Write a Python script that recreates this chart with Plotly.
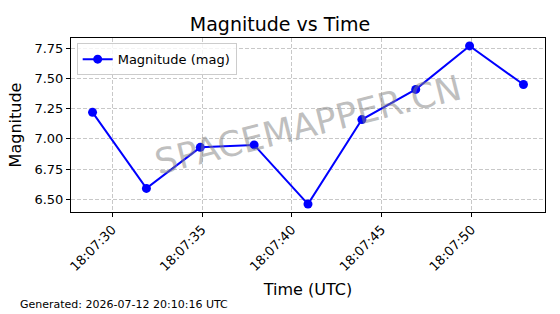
import plotly.graph_objects as go

times = ["2026-07-12 18:07:28.9", "2026-07-12 18:07:31.9", "2026-07-12 18:07:34.9",
         "2026-07-12 18:07:37.9", "2026-07-12 18:07:40.9", "2026-07-12 18:07:43.9",
         "2026-07-12 18:07:46.9", "2026-07-12 18:07:49.9", "2026-07-12 18:07:52.9"]
magnitudes = [7.22, 6.59, 6.93, 6.95, 6.46, 7.16, 7.41, 7.77, 7.45]
y_ticks = [6.50, 6.75, 7.00, 7.25, 7.50, 7.75]
y_tick_labels = ["6.50", "6.75", "7.00", "7.25", "7.50", "7.75"]
x_ticks = ["2026-07-12 18:07:30", "2026-07-12 18:07:35", "2026-07-12 18:07:40",
           "2026-07-12 18:07:45", "2026-07-12 18:07:50"]
x_tick_labels = ["18:07:30", "18:07:35", "18:07:40", "18:07:45", "18:07:50"]

font = "DejaVu Sans"

fig = go.Figure()
fig.add_trace(go.Scatter(
    x=times, y=magnitudes, mode="lines+markers", name="Magnitude (mag)",
    line=dict(color="#0000ff", width=2),
    marker=dict(color="#0000ff", size=9),
))

fig.update_layout(
    width=560, height=314,
    margin=dict(l=71, r=15, t=38, b=102),
    paper_bgcolor="white", plot_bgcolor="white",
    font=dict(family=font, size=13, color="black"),
    title=dict(text="Magnitude vs Time", x=0.5, xanchor="center", y=1 - 24/314,
               yanchor="middle", font=dict(family=font, size=19, color="black")),
    showlegend=True,
    legend=dict(x=0.012, y=0.97, xanchor="left", yanchor="top",
                bgcolor="rgba(255,255,255,0.8)", bordercolor="#cccccc", borderwidth=1,
                font=dict(family=font, size=13), itemwidth=30),
)

fig.update_xaxes(
    type="date",
    range=["2026-07-12 18:07:27.7", "2026-07-12 18:07:54.1"],
    tickvals=x_ticks, ticktext=x_tick_labels, tickangle=-45,
    ticks="outside", ticklen=4, tickcolor="black",
    showline=True, linecolor="black", linewidth=1, mirror=True,
    showgrid=True, gridcolor="#c8c8c8", griddash="4px,2px", gridwidth=1,
    zeroline=False,
    title=dict(text="Time (UTC)", font=dict(family=font, size=16), standoff=10),
    tickfont=dict(family=font, size=13),
)
fig.update_yaxes(
    range=[6.3945, 7.8355],
    tickvals=y_ticks, ticktext=y_tick_labels,
    ticks="outside", ticklen=4, tickcolor="black",
    showline=True, linecolor="black", linewidth=1, mirror=True,
    showgrid=True, gridcolor="#c8c8c8", griddash="4px,2px", gridwidth=1,
    zeroline=False,
    title=dict(text="Magnitude", font=dict(family=font, size=16), standoff=8),
    tickfont=dict(family=font, size=13),
)

fig.add_annotation(
    text="SPACEMAPPER.CN", xref="paper", yref="paper", x=0.50, y=0.50,
    xanchor="center", yanchor="middle", showarrow=False, textangle=-14,
    font=dict(family=font, size=35, color="rgba(128,128,128,0.5)"),
)
fig.add_annotation(
    text="Generated: 2026-07-12 20:10:16 UTC", xref="paper", yref="paper",
    x=(18 - 71) / 474, y=-(304 - 212) / 174, xanchor="left", yanchor="middle",
    showarrow=False,
    font=dict(family=font, size=11, color="black"),
)

fig.write_html("out.html")
